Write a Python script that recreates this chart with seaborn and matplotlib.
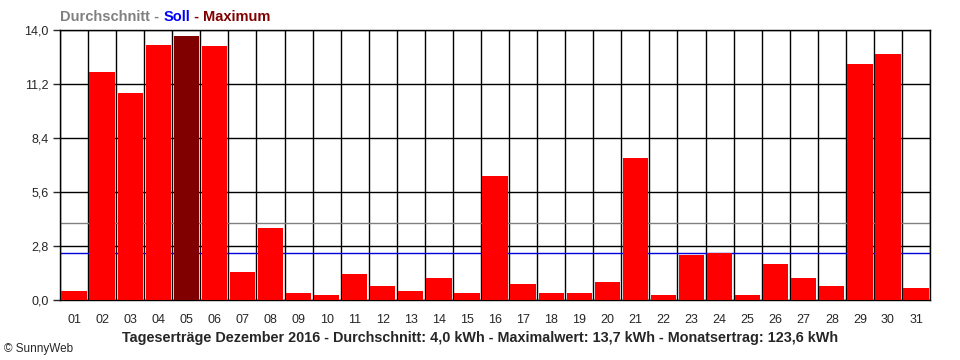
import numpy as np
import pandas as pd
import matplotlib
matplotlib.use("Agg")
import matplotlib.pyplot as plt
import seaborn as sns

days = [f"{d:02d}" for d in range(1, 32)]
ertrag = [0.47, 11.82, 10.73, 13.22, 13.70, 13.17, 1.47, 3.73, 0.36, 0.26,
          1.35, 0.73, 0.47, 1.14, 0.36, 6.43, 0.83, 0.36, 0.36, 0.93,
          7.36, 0.26, 2.33, 2.42, 0.26, 1.87, 1.14, 0.73, 12.23, 12.75, 0.62]
durchschnitt = 4.0
soll = 2.42
y_ticks = [0.0, 2.8, 5.6, 8.4, 11.2, 14.0]

df = pd.DataFrame({"tag": days, "kwh": ertrag})
max_idx = int(np.argmax(ertrag))
df["typ"] = ["max" if i == max_idx else "normal" for i in range(len(days))]

sns.set_style("white")
plt.rcParams["font.family"] = ["Liberation Sans", "DejaVu Sans"]

fig = plt.figure(figsize=(9.6, 3.6), dpi=100)
ax = fig.add_axes([0.0625, 0.1667, 0.9063, 0.75])

sns.barplot(data=df, x="tag", y="kwh", hue="typ",
            palette={"normal": "#ff0000", "max": "#800000"},
            width=0.9, dodge=False, legend=False, saturation=1,
            edgecolor="none", ax=ax, zorder=3)

# grid
for y in y_ticks:
    ax.axhline(y, color="black", lw=1.0, zorder=1)
for i in range(len(days) + 1):
    ax.axvline(i - 0.5, color="black", lw=1.0, zorder=1)
ax.axhline(durchschnitt, color="#808080", lw=1.0, zorder=2)
ax.axhline(soll, color="#0000dd", lw=1.0, zorder=2)

ax.set_xlim(-0.5, len(days) - 0.5)
ax.set_ylim(0, 14.0)
ax.set_yticks(y_ticks)
ax.set_yticklabels([f"{v:.1f}".replace(".", ",") for v in y_ticks], fontsize=9)
ax.set_xticks(range(len(days)))
ax.set_xticklabels(days, fontsize=9)
ax.set_xticks(np.arange(-0.5, len(days)), minor=True)
ax.tick_params(axis="x", which="major", length=0, pad=10)
ax.tick_params(axis="x", which="minor", length=5, width=1, direction="out")
ax.tick_params(axis="y", length=5, width=1, direction="out", pad=3, left=True)
ax.set_xlabel("")
ax.set_ylabel("")
for s in ax.spines.values():
    s.set_color("black")
    s.set_linewidth(1.0)

# header: Durchschnitt - Soll - Maximum
parts = [("Durchschnitt", "#808080"), (" - ", "#808080"), ("Soll", "#0000ff"),
         (" - ", "#800000"), ("Maximum", "#800000")]
prev = fig.text(0.0625, 0.953, parts[0][0], color=parts[0][1], fontsize=10.5,
                fontweight="bold", va="center", ha="left")
for txt, col in parts[1:]:
    prev = ax.annotate(txt, xy=(1, 0), xycoords=prev, color=col, fontsize=10.5,
                       fontweight="bold", va="bottom", ha="left")

fig.text(0.5, 0.061,
         "Tageserträge Dezember 2016 - Durchschnitt: 4,0 kWh - Maximalwert: 13,7 kWh - Monatsertrag: 123,6 kWh",
         fontsize=10.4, fontweight="bold", ha="center", va="center")
fig.text(0.004, 0.03, "© SunnyWeb", fontsize=8.5, ha="left", va="center")

fig.savefig("out.png", dpi=100, facecolor="white")
